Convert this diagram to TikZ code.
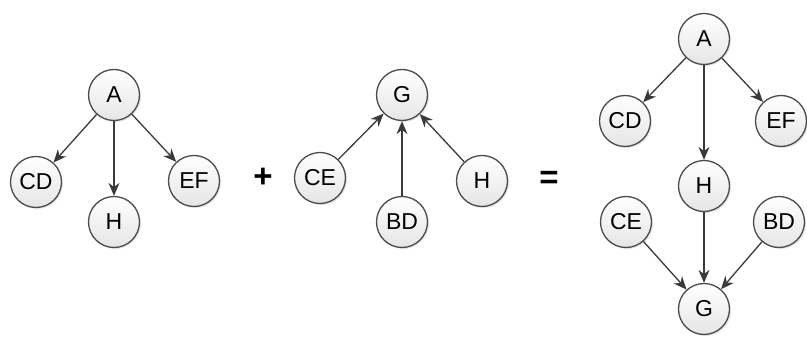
\documentclass[tikz,border=0pt]{standalone}
\usepackage{fontspec}
\setmainfont{Liberation Sans}
\usepackage{tikz}
\usetikzlibrary{arrows.meta, shadows}
\definecolor{edgegray}{RGB}{58,58,58}
\definecolor{ringgray}{RGB}{75,75,75}
\tikzstyle{var} = [circle, minimum size=51pt, inner sep=0pt, draw=ringgray, line width=1.3pt, top color=white, bottom color=gray!20, drop shadow={opacity=0.2, shadow xshift=1.5pt, shadow yshift=-1.5pt}, font=\fontsize{23}{26}\selectfont]
\tikzstyle{arrow} = [line width=1.3pt, draw=edgegray, -{Stealth[length=13pt,width=11pt]}]
\tikzstyle{op} = [font=\fontsize{33}{33}\selectfont\bfseries]

\begin{document}
\begin{tikzpicture}[x=1pt, y=-1pt]
\useasboundingbox (0,0) rectangle (807,337);

% first tree
\node (a1) [var] at (114,95) {A};
\node (cd1) [var] at (36,182) {CD};
\node (h1) [var] at (114,222) {H};
\node (ef1) [var] at (194,181) {EF};

\draw [arrow] (a1) -- (cd1);
\draw [arrow] (a1) -- (h1);
\draw [arrow] (a1) -- (ef1);

\node (plus) [op] at (263,178) {+};

% second tree
\node (g2) [var] at (402,95) {G};
\node (ce2) [var] at (320,178) {CE};
\node (bd2) [var] at (402,222) {BD};
\node (h2) [var] at (482,181) {H};

\draw [arrow] (ce2) -- (g2);
\draw [arrow] (bd2) -- (g2);
\draw [arrow] (h2) -- (g2);

\node (eq) [op] at (549,180) {=};

% merged
\node (a3) [var] at (704,39) {A};
\node (cd3) [var] at (625,121) {CD};
\node (ef3) [var] at (781,121) {EF};
\node (h3) [var] at (704,186) {H};
\node (ce3) [var] at (626,222) {CE};
\node (bd3) [var] at (779,222) {BD};
\node (g3) [var] at (704,309) {G};

\draw [arrow] (a3) -- (cd3);
\draw [arrow] (a3) -- (h3);
\draw [arrow] (a3) -- (ef3);
\draw [arrow] (h3) -- (g3);
\draw [arrow] (ce3) -- (g3);
\draw [arrow] (bd3) -- (g3);

\end{tikzpicture}
\end{document}
